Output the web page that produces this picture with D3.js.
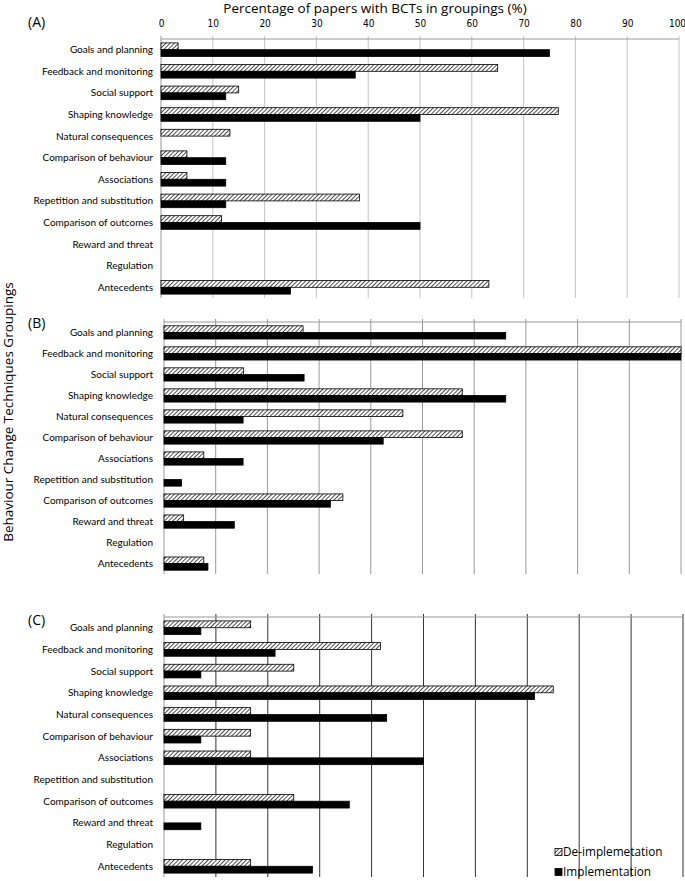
<!DOCTYPE html>
<html>
<head>
<meta charset="utf-8">
<script src="https://cdn.jsdelivr.net/npm/d3@7"></script>
<style>
  body { margin: 0; background: #fff; }
  svg { display: block; font-family: 'Open Sans', Lato, sans-serif; }
</style>
</head>
<body>
<svg id="chart" width="685" height="881"></svg>
<script>
// BCT groupings, same order in every panel
const categories = [
  'Goals and planning', 'Feedback and monitoring', 'Social support',
  'Shaping knowledge', 'Natural consequences', 'Comparison of behaviour',
  'Associations', 'Repetition and substitution', 'Comparison of outcomes',
  'Reward and threat', 'Regulation', 'Antecedents'
]
const seriesNames = ['De-implemetation', 'Implementation']
const xTicks = [0, 10, 20, 30, 40, 50, 60, 70, 80, 90, 100]
const panelLabels = ['(A)', '(B)', '(C)']

// percentages
const deImplA = [3.3, 65, 15, 76.7, 13.3, 5, 5, 38.3, 11.7, 0, 0, 63.3]
const implA = [75, 37.5, 12.5, 50, 0, 12.5, 12.5, 12.5, 50, 0, 0, 25]
const deImplB = [26.9, 100, 15.4, 57.7, 46.2, 57.7, 7.7, 0, 34.6, 3.8, 0, 7.7]
const implB = [66.1, 100, 27.1, 66.1, 15.3, 42.4, 15.3, 3.4, 32.2, 13.6, 0, 8.5]
const deImplC = [16.7, 41.7, 25, 75, 16.7, 16.7, 16.7, 0, 25, 0, 0, 16.7]
const implC = [7.1, 21.4, 7.1, 71.4, 42.9, 7.1, 50, 0, 35.7, 7.1, 0, 28.6]

const svg = d3.select('#chart')

// hatch for the de-implementation bars
svg.append('defs').append('pattern')
  .attr('id', 'hatch')
  .attr('patternUnits', 'userSpaceOnUse')
  .attr('width', 3)
  .attr('height', 3)
  .attr('patternTransform', 'rotate(45)')
  .call(p => {
    p.append('rect').attr('width', 3).attr('height', 3).attr('fill', '#fff')
    p.append('line').attr('x1', 0).attr('y1', 0).attr('x2', 0).attr('y2', 3)
      .attr('stroke', '#000').attr('stroke-width', 1.4)
  })

const fills = ['url(#hatch)', '#000']

const panels = [
  { label: panelLabels[0], de: deImplA, impl: implA, x0: 161, x1: 679, top: 39, bottom: 298, grid: '#c4c4c4', labelY: 27 },
  { label: panelLabels[1], de: deImplB, impl: implB, x0: 164, x1: 681, top: 322, bottom: 574, grid: '#999', labelY: 328 },
  { label: panelLabels[2], de: deImplC, impl: implC, x0: 164, x1: 683, top: 617, bottom: 877, grid: '#333', labelY: 625 }
]

panels.forEach((p, pi) => {
  const x = d3.scaleLinear().domain([0, 100]).range([p.x0, p.x1])
  const y = d3.scaleBand().domain(categories).range([p.top, p.bottom])
    .paddingInner(0.37).paddingOuter(0.18)
  const sub = d3.scaleBand().domain(seriesNames).range([0, y.bandwidth()])

  const g = svg.append('g')

  // vertical gridlines
  g.append('g').selectAll('line')
    .data(xTicks)
    .join('line')
    .attr('x1', d => x(d)).attr('x2', d => x(d))
    .attr('y1', p.top - 3).attr('y2', p.bottom)
    .attr('stroke', d => d === 0 ? '#999' : p.grid)
    .attr('stroke-width', 1)

  // top border line
  g.append('line')
    .attr('x1', x(0)).attr('x2', x(100))
    .attr('y1', p.top).attr('y2', p.top)
    .attr('stroke', '#999')

  if (pi === 0) {
    const axis = d3.axisTop(x).tickValues(xTicks).tickSize(0).tickPadding(12)
    g.append('g')
      .attr('transform', `translate(0,${p.top})`)
      .call(axis)
      .call(a => a.select('.domain').remove())
      .selectAll('text')
      .attr('font-family', "'Liberation Sans Narrow', 'DejaVu Sans Condensed', sans-serif")
      .attr('font-size', 10)
      .attr('fill', '#000')
      .attr('dx', d => d === 100 ? -2 : 0)
  }

  // category labels
  g.append('g').selectAll('text')
    .data(categories)
    .join('text')
    .attr('x', 153)
    .attr('y', d => y(d) + y.bandwidth() / 2)
    .attr('dy', '0.35em')
    .attr('text-anchor', 'end')
    .attr('font-family', 'Lato, sans-serif')
    .attr('font-size', 10)
    .text(d => d)

  // bars
  const rows = categories.map((c, i) => ({ c, vals: [p.de[i], p.impl[i]] }))
  g.append('g').selectAll('g')
    .data(rows)
    .join('g')
    .attr('transform', d => `translate(0,${y(d.c)})`)
    .selectAll('rect')
    .data(d => d.vals.map((v, k) => ({ v, k })).filter(e => e.v > 0))
    .join('rect')
    .attr('x', x(0))
    .attr('y', d => sub(seriesNames[d.k]))
    .attr('width', d => x(d.v) - x(0))
    .attr('height', sub.bandwidth())
    .attr('fill', d => fills[d.k])
    .attr('stroke', '#000')
    .attr('stroke-width', 0.8)

  svg.append('text')
    .attr('x', 28).attr('y', p.labelY)
    .attr('font-size', 14)
    .text(p.label)
})

// titles
svg.append('text')
  .attr('x', 375).attr('y', 13)
  .attr('text-anchor', 'middle')
  .attr('font-size', 13.5)
  .text('Percentage of papers with BCTs in groupings (%)')

svg.append('text')
  .attr('transform', 'translate(13,412) rotate(-90)')
  .attr('text-anchor', 'middle')
  .attr('font-size', 13.5)
  .text('Behaviour Change Techniques Groupings')

// legend
const legend = svg.append('g').attr('transform', 'translate(555,852)')
legend.selectAll('g')
  .data(seriesNames)
  .join('g')
  .attr('transform', (d, i) => `translate(0,${i * 20})`)
  .call(s => {
    s.append('rect')
      .attr('x', 0).attr('y', -3.5).attr('width', 7).attr('height', 7)
      .attr('fill', (d, i) => fills[i])
      .attr('stroke', '#000').attr('stroke-width', 0.8)
    s.append('text')
      .attr('x', 8).attr('y', 0).attr('dy', '0.35em')
      .attr('font-size', 11.8)
      .text(d => d)
  })
</script>
</body>
</html>
